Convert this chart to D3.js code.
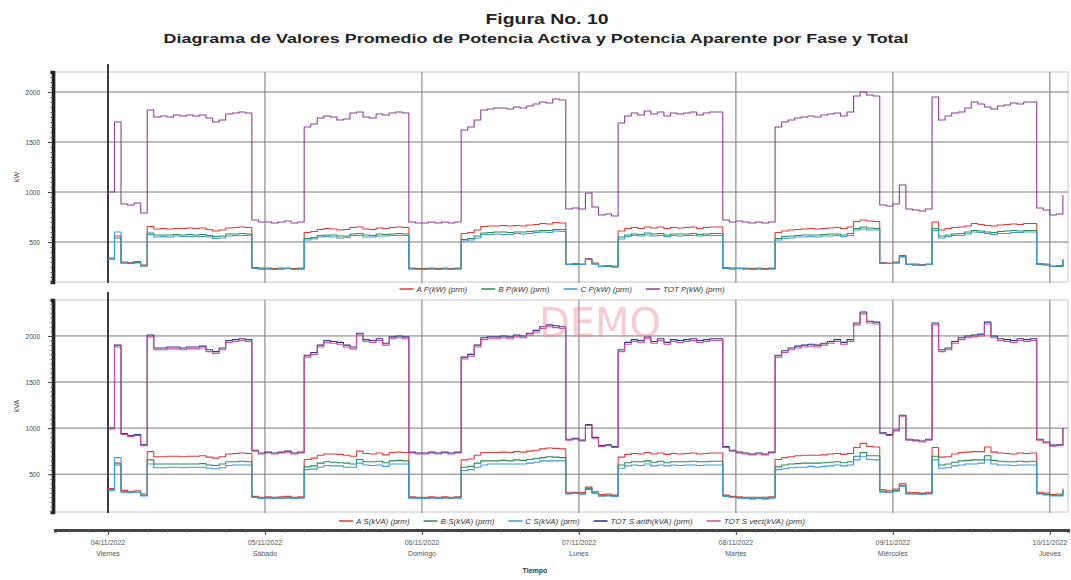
<!DOCTYPE html>
<html>
<head>
<meta charset="utf-8">
<script src="https://cdn.jsdelivr.net/npm/d3@7"></script>
<style>
  body { margin: 0; background: #fff; }
  svg { display: block; }
</style>
</head>
<body>
<svg id="chart" width="1071" height="580"></svg>
<script>
// Fechas y días del eje de tiempo
const fechas = ["04/11/2022", "05/11/2022", "06/11/2022", "07/11/2022", "08/11/2022", "09/11/2022", "10/11/2022"];
const dias = ["Viernes", "Sábado", "Domingo", "Lunes", "Martes", "Miércoles", "Jueves"];
const ticksY = [500, 1000, 1500, 2000];
const leyendaP = ["A P(kW) (prm)", "B P(kW) (prm)", "C P(kW) (prm)", "TOT P(kW) (prm)"];
const leyendaS = ["A S(kVA) (prm)", "B S(kVA) (prm)", "C S(kVA) (prm)", "TOT S arith(kVA) (prm)", "TOT S vect(kVA) (prm)"];

// Promedios horarios desde el 04/11/2022 00:00 — potencia activa (kW)
const pA = [340,560,300,295,305,270,655,630,635,630,635,635,640,635,640,625,610,620,640,645,650,645,245,240,
 240,235,240,240,235,240,595,605,625,635,630,620,625,645,650,630,625,640,635,645,650,645,240,235,
 235,240,235,240,235,240,585,595,620,655,660,660,665,660,665,660,670,675,685,680,695,690,280,285,
 280,335,290,260,265,260,610,635,645,635,650,640,650,635,645,640,645,650,635,645,650,650,245,240,
 240,240,235,240,235,240,595,610,620,625,630,635,630,635,640,645,635,650,705,720,710,705,295,290,
 300,365,280,280,275,280,700,620,635,645,650,660,685,675,665,660,670,675,680,675,685,685,285,280,
 260,265,330];
const pB = [330,540,290,285,295,260,590,570,570,570,575,570,575,570,575,565,555,560,580,580,585,580,240,230,
 230,230,230,235,230,230,535,545,565,570,570,560,560,580,585,570,565,580,575,580,585,580,230,230,
 230,230,230,230,230,230,525,535,560,590,595,600,600,595,600,600,605,610,615,615,625,625,275,275,
 275,325,280,255,255,250,550,570,580,575,590,580,585,570,580,580,580,585,575,580,585,585,240,230,
 235,230,230,230,230,230,535,555,560,565,570,570,570,575,580,580,570,585,635,650,640,635,285,285,
 290,350,275,270,265,275,635,560,570,580,585,600,615,610,600,595,605,610,615,610,615,615,275,270,
 255,255,320];
const pC = [330,600,290,290,290,260,575,550,555,550,560,555,555,555,555,550,535,540,560,565,565,565,235,230,
 230,225,230,235,225,230,520,530,550,555,550,540,545,565,565,550,550,560,560,565,565,565,230,225,
 225,230,225,230,225,230,510,520,540,575,575,580,575,575,585,580,585,595,600,595,610,605,275,280,
 275,330,280,255,260,250,530,555,565,560,570,560,565,555,565,560,565,565,560,565,565,565,235,230,
 235,230,225,230,225,230,520,535,540,550,550,555,550,560,560,565,555,565,620,630,620,620,290,285,
 290,355,275,270,270,275,615,540,555,565,565,580,600,595,585,575,585,585,595,595,600,600,280,270,
 255,260,320];
const pTot = [1000,1700,880,870,890,790,1820,1750,1760,1750,1770,1760,1770,1760,1770,1740,1700,1720,1780,1790,1800,1790,720,700,
 700,690,700,710,690,700,1650,1680,1740,1760,1750,1720,1730,1790,1800,1750,1740,1780,1770,1790,1800,1790,700,690,
 690,700,690,700,690,700,1620,1650,1720,1820,1830,1840,1840,1830,1850,1840,1860,1880,1900,1890,1930,1920,830,840,
 830,990,850,770,780,760,1690,1760,1790,1770,1810,1780,1800,1760,1790,1780,1790,1800,1770,1790,1800,1800,720,700,
 710,700,690,700,690,700,1650,1700,1720,1740,1750,1760,1750,1770,1780,1790,1760,1800,1960,2000,1970,1960,870,860,
 880,1070,830,820,810,830,1950,1720,1760,1790,1800,1840,1900,1880,1850,1830,1860,1870,1890,1880,1900,1900,840,820,
 770,780,970];

// Potencia aparente (kVA)
const sA = [345,620,325,315,320,285,745,690,690,695,695,690,695,695,700,685,675,690,720,725,730,725,260,250,
 255,250,255,260,250,255,660,675,705,720,720,715,705,695,750,725,720,730,710,735,740,735,255,250,
 250,255,250,255,250,255,655,665,705,735,735,735,740,735,745,740,750,760,775,785,780,775,305,305,
 300,360,310,280,285,275,685,715,725,720,735,720,730,715,725,720,725,730,720,725,730,730,275,260,
 255,250,250,250,250,255,660,680,690,700,705,705,705,710,720,725,715,725,790,835,800,795,330,320,
 340,395,305,300,295,305,790,685,690,720,735,740,745,745,795,740,730,725,720,730,725,730,305,295,
 280,285,345];
const sB = [330,600,310,305,305,270,655,610,610,610,610,610,610,610,615,600,595,610,635,635,640,635,250,240,
 245,240,245,250,240,245,580,590,620,635,630,625,620,610,660,635,635,640,625,645,650,645,245,240,
 240,245,240,245,240,245,575,585,620,645,645,645,650,645,655,650,660,670,680,690,685,680,290,295,
 285,345,295,265,270,265,600,625,635,635,645,630,640,625,635,635,635,640,635,635,640,640,265,250,
 245,240,240,240,240,245,580,600,610,615,620,620,620,625,630,635,625,635,695,735,700,700,315,305,
 325,375,290,285,285,290,695,600,610,630,645,650,655,655,700,650,640,635,635,640,635,640,290,280,
 270,270,330];
const sC = [325,680,305,300,305,265,610,570,570,575,575,570,575,575,575,565,560,570,595,600,600,600,250,240,
 240,240,240,240,240,240,550,555,575,595,590,590,575,575,620,600,595,600,585,610,610,610,240,240,
 240,240,240,240,240,240,540,550,575,600,610,610,610,610,610,610,620,630,645,645,645,645,285,290,
 285,335,295,265,265,260,565,590,600,595,610,590,600,590,600,595,600,600,595,600,600,600,260,250,
 240,240,230,240,230,240,550,560,570,575,575,585,575,585,590,600,590,600,655,690,660,655,305,305,
 315,370,285,285,280,285,655,565,570,590,600,610,610,620,655,610,600,600,595,600,600,600,285,275,
 265,265,325];
const sTotArith = [1000,1900,940,920,930,820,2010,1870,1870,1880,1880,1870,1880,1880,1890,1850,1830,1870,1950,1960,1970,1960,760,730,
 740,730,740,750,730,740,1790,1820,1900,1950,1940,1930,1900,1880,2030,1960,1950,1970,1920,1990,2000,1990,740,730,
 730,740,730,740,730,740,1770,1800,1900,1980,1990,1990,2000,1990,2010,2000,2030,2060,2100,2120,2110,2100,880,890,
 870,1040,900,810,820,800,1850,1930,1960,1950,1990,1940,1970,1930,1960,1950,1960,1970,1950,1960,1970,1970,800,760,
 740,730,720,730,720,740,1790,1840,1870,1890,1900,1910,1900,1920,1940,1960,1930,1960,2140,2260,2160,2150,950,930,
 980,1140,880,870,860,880,2140,1850,1870,1940,1980,2000,2010,2020,2150,2000,1970,1960,1950,1970,1960,1970,880,850,
 815,820,1000];
const sTotVect = [990,1880,930,910,920,810,1990,1850,1850,1860,1860,1850,1860,1860,1870,1830,1810,1850,1930,1940,1950,1940,750,720,
 730,720,730,740,720,730,1770,1800,1880,1930,1920,1910,1880,1860,2010,1940,1930,1950,1900,1970,1980,1970,730,720,
 720,730,720,730,720,730,1750,1780,1880,1960,1970,1970,1980,1970,1990,1980,2010,2040,2080,2100,2090,2080,870,880,
 860,1030,890,800,810,790,1830,1910,1940,1930,1970,1920,1950,1910,1940,1930,1940,1950,1930,1940,1950,1950,790,750,
 730,720,710,720,710,730,1770,1820,1850,1870,1880,1890,1880,1900,1920,1940,1910,1940,2120,2240,2140,2130,940,920,
 970,1130,870,860,850,870,2120,1830,1850,1920,1960,1980,1990,2000,2130,1980,1950,1940,1930,1950,1940,1950,870,840,
 805,810,990];

const svg = d3.select("#chart");
const FONT = "'Liberation Sans', Arial, sans-serif";
const inicio = new Date(2022, 10, 4, 0, 0);
const hora = i => d3.timeHour.offset(inicio, i);

const left = 55, right = 1068;
const x = d3.scaleTime()
  .domain([new Date(2022, 10, 3, 15, 54), new Date(2022, 10, 10, 2, 47)])
  .range([left, right]);
const medianoches = fechas.map((f, i) => d3.timeDay.offset(inicio, i));

// Títulos
svg.append("text").attr("x", 547).attr("y", 24).attr("text-anchor", "middle")
  .attr("font-family", FONT).attr("font-weight", "bold").attr("font-size", 15)
  .attr("textLength", 123).attr("lengthAdjust", "spacingAndGlyphs").attr("fill", "#222")
  .text("Figura No. 10");
svg.append("text").attr("x", 536).attr("y", 43).attr("text-anchor", "middle")
  .attr("font-family", FONT).attr("font-weight", "bold").attr("font-size", 12.5)
  .attr("textLength", 745).attr("lengthAdjust", "spacingAndGlyphs").attr("fill", "#222")
  .text("Diagrama de Valores Promedio de Potencia Activa y Potencia Aparente por Fase y Total");

const colores = { A: "#e23a3a", B: "#2e8b57", C: "#3b9bd6" };

const paneles = [
  {
    id: "p", top: 72, bottom: 282, dominio: [100, 2200], titulo: "kW",
    series: [
      { v: pA, c: colores.A }, { v: pB, c: colores.B }, { v: pC, c: colores.C },
      { v: pTot, c: "#8e3f93" }
    ],
    leyenda: leyendaP, leyColores: [colores.A, colores.B, colores.C, "#8e3f93"], leyY: 289
  },
  {
    id: "s", top: 300, bottom: 512, dominio: [90, 2390], titulo: "kVA",
    series: [
      { v: sA, c: colores.A }, { v: sB, c: colores.B }, { v: sC, c: colores.C },
      { v: sTotArith, c: "#2b3585" }, { v: sTotVect, c: "#d04a9c" }
    ],
    leyenda: leyendaS, leyColores: [colores.A, colores.B, colores.C, "#2b3585", "#d04a9c"], leyY: 521
  }
];

paneles.forEach(p => {
  const y = d3.scaleLinear().domain(p.dominio).range([p.bottom, p.top]);
  const g = svg.append("g");

  // marco del área de trazado
  g.append("rect").attr("x", left).attr("y", p.top).attr("width", right - left)
    .attr("height", p.bottom - p.top).attr("fill", "none").attr("stroke", "#c8c8c8");

  // líneas de rejilla horizontales
  g.selectAll(".grid").data(ticksY).join("line")
    .attr("x1", left).attr("x2", right).attr("y1", d => y(d)).attr("y2", d => y(d))
    .attr("stroke", "#7a7a7a").attr("stroke-width", 1);

  // separadores de día
  g.selectAll(".dia").data(medianoches).join("line")
    .attr("x1", d => x(d)).attr("x2", d => x(d))
    .attr("y1", (d, i) => i === 0 ? p.top - 8 : p.top).attr("y2", p.bottom + 1)
    .attr("stroke", (d, i) => i === 0 ? "#3a3a3a" : "#8c8c8c")
    .attr("stroke-width", (d, i) => i === 0 ? 2 : 1.2);

  // eje vertical
  const ejeMenor = g.append("g").attr("transform", `translate(${left - 2},0)`)
    .call(d3.axisLeft(y).tickValues(d3.range(100, p.dominio[1], 50)).tickSize(2.5).tickFormat(""));
  ejeMenor.select(".domain").attr("stroke", "#222").attr("stroke-width", 3.5);
  ejeMenor.selectAll(".tick line").attr("stroke", "#555");
  const ejeY = g.append("g").attr("transform", `translate(${left - 2},0)`)
    .call(d3.axisLeft(y).tickValues(ticksY).tickSize(5).tickPadding(8).tickFormat(d3.format("d")));
  ejeY.select(".domain").remove();
  ejeY.selectAll(".tick line").attr("stroke", "#444");
  ejeY.selectAll("text").attr("font-family", FONT).attr("font-size", 6.5).attr("fill", "#444");

  g.append("text").attr("transform", `translate(19,${(p.top + p.bottom) / 2}) rotate(-90)`)
    .attr("text-anchor", "middle").attr("font-family", FONT).attr("font-size", 7).attr("fill", "#444")
    .text(p.titulo);

  // series
  svg.append("clipPath").attr("id", "clip-" + p.id).append("rect")
    .attr("x", left).attr("y", p.top).attr("width", right - left).attr("height", p.bottom - p.top);
  const linea = d3.line().x((d, i) => x(hora(i))).y(d => y(d)).curve(d3.curveStepAfter);
  const gs = g.append("g").attr("clip-path", `url(#clip-${p.id})`);
  p.series.forEach(s => {
    gs.append("path").datum(s.v).attr("d", linea).attr("fill", "none")
      .attr("stroke", s.c).attr("stroke-width", 1.1).attr("stroke-linejoin", "round");
  });

  // leyenda
  const gl = svg.append("g");
  let pos = 0;
  p.leyenda.forEach((txt, i) => {
    const it = gl.append("g").attr("transform", `translate(${pos},0)`);
    it.append("line").attr("x1", 0).attr("x2", 14).attr("y1", 0).attr("y2", 0)
      .attr("stroke", p.leyColores[i]).attr("stroke-width", 1.5);
    const t = it.append("text").attr("x", 17).attr("y", 2.8).attr("font-family", FONT)
      .attr("font-size", 8).attr("font-style", "italic").attr("fill", "#333").text(txt);
    pos += 17 + t.node().getComputedTextLength() + 14;
  });
  pos -= 14;
  const cx = p.id === "p" ? 562 : 572;
  gl.attr("transform", `translate(${cx - pos / 2},${p.leyY})`);
});

// eje de tiempo
const ejeX = svg.append("g").attr("transform", "translate(0,530)")
  .call(d3.axisBottom(x).ticks(d3.timeHour.every(3)).tickSize(2.5).tickFormat(""));
ejeX.select(".domain").attr("stroke", "#444").attr("stroke-width", 3);
ejeX.selectAll(".tick line").attr("stroke", "#666");
const ejeDias = svg.append("g").attr("transform", "translate(0,530)")
  .call(d3.axisBottom(x).tickValues(medianoches).tickSize(5).tickFormat(""));
ejeDias.select(".domain").remove();
ejeDias.selectAll(".tick line").attr("stroke", "#444");

const etiquetas = svg.append("g").selectAll("g").data(medianoches).join("g")
  .attr("transform", d => `translate(${x(d)},0)`);
etiquetas.append("text").attr("y", 545).attr("text-anchor", "middle")
  .attr("font-family", FONT).attr("font-size", 7).attr("fill", "#555")
  .text((d, i) => fechas[i]);
etiquetas.append("text").attr("y", 556).attr("text-anchor", "middle")
  .attr("font-family", FONT).attr("font-size", 7).attr("fill", "#555")
  .text((d, i) => dias[i]);

svg.append("text").attr("x", 535).attr("y", 573).attr("text-anchor", "middle")
  .attr("font-family", FONT).attr("font-size", 7).attr("font-weight", "bold").attr("fill", "#333")
  .text("Tiempo");

// marca de agua
svg.append("text").attr("x", 600).attr("y", 337).attr("text-anchor", "middle")
  .attr("font-family", "'DejaVu Sans', sans-serif").attr("font-size", 40)
  .attr("fill", "#ec8a9c").attr("fill-opacity", 0.45)
  .text("DEMO");
</script>
</body>
</html>
